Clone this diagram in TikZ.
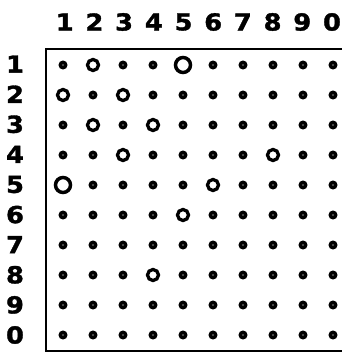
\documentclass[tikz,border=0pt]{standalone}
\usepackage{fontspec}
\newfontfamily\lblfont{DejaVu Sans}[UprightFont=* Bold,FakeStretch=1.1,FakeBold=1.5,Scale=1.3]
\begin{document}
\begin{tikzpicture}[x=1pt,y=-1pt,
  lbl/.style={font=\lblfont\fontsize{18}{18}\selectfont,inner sep=0pt},
  dotmark/.style={circle,draw=black,line width=3.6pt,minimum size=5.2pt,inner sep=0pt},
  midmark/.style={circle,draw=black,line width=3.3pt,minimum size=11pt,inner sep=0pt},
  bigmark/.style={circle,draw=black,line width=3.5pt,minimum size=15pt,inner sep=0pt},
  frameline/.style={line width=2.2pt}]
\useasboundingbox (0,0) rectangle (342,353);
% column and row labels
\foreach \n [count=\i] in {1,2,3,4,5,6,7,8,9,0} {
  \node[lbl] (c\i) at (35+29.7*\i,22) {\n};
  \node[lbl] (r\i) at (15,34+30.1*\i) {\n};
}
% frame
\coordinate (tl) at (46,49);
\coordinate (tr) at (342,49);
\coordinate (bl) at (46,351);
\coordinate (br) at (342,351);
\draw[frameline] (tr) -- (tl) -- (bl) -- (br);
% grid
\foreach \r in {1,...,10} {
  \foreach \c in {1,...,10} {
    \def\sty{dotmark}
    \ifnum\r=1 \ifnum\c=2 \def\sty{midmark}\fi \ifnum\c=5 \def\sty{bigmark}\fi \fi
    \ifnum\r=2 \ifnum\c=1 \def\sty{midmark}\fi \ifnum\c=3 \def\sty{midmark}\fi \fi
    \ifnum\r=3 \ifnum\c=2 \def\sty{midmark}\fi \ifnum\c=4 \def\sty{midmark}\fi \fi
    \ifnum\r=4 \ifnum\c=3 \def\sty{midmark}\fi \ifnum\c=8 \def\sty{midmark}\fi \fi
    \ifnum\r=5 \ifnum\c=1 \def\sty{bigmark}\fi \ifnum\c=6 \def\sty{midmark}\fi \fi
    \ifnum\r=6 \ifnum\c=5 \def\sty{midmark}\fi \fi
    \ifnum\r=8 \ifnum\c=4 \def\sty{midmark}\fi \fi
    \node[\sty] (p\r-\c) at (33+30*\c,35+30*\r) {};
  }
}
\end{tikzpicture}
\end{document}
